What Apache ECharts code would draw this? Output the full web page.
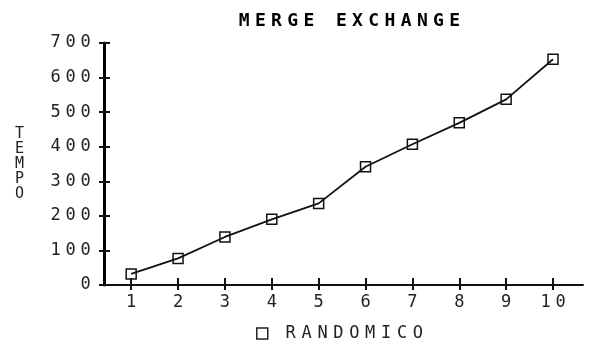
<!DOCTYPE html>
<html><head><meta charset="utf-8">
<script src="https://cdn.jsdelivr.net/npm/echarts@6/dist/echarts.min.js"></script>
<style>html,body{margin:0;padding:0;background:#fff}#c{width:598px;height:341px}</style>
</head><body><div id="c"></div>
<script>
const titleText = 'MERGE EXCHANGE';
const yName = 'TEMPO';
const seriesName = 'RANDOMICO';
const xValues = [1, 2, 3, 4, 5, 6, 7, 8, 9, 10];
const tempoValues = [32, 77, 139, 190, 236, 342, 407, 469, 537, 653];
const yTicks = [0, 100, 200, 300, 400, 500, 600, 700];

const FONT = 'DejaVu Sans Mono';
function cells(str, key) {
  return String(str).split('').map(function (c) { return '{' + key + '|' + c + '}'; }).join('');
}

const chart = echarts.init(document.getElementById('c'), null, { renderer: 'canvas' });
const axisX = {
  type: 'value', min: 0.42, max: 10.64,
  splitLine: { show: false }
};
const axisY = {
  type: 'value', min: yTicks[0], max: yTicks[yTicks.length - 1], interval: 100,
  splitLine: { show: false }
};
chart.setOption({
  backgroundColor: '#ffffff',
  animation: false,
  title: {
    text: cells(titleText, 't'),
    left: 231, top: 7,
    textStyle: {
      rich: { t: { fontFamily: FONT, fontWeight: 'bold', fontSize: 18, width: 16.2, align: 'center', color: '#000' } }
    }
  },
  legend: {
    left: 251, top: 320,
    itemWidth: 11, itemHeight: 11,
    icon: 'rect',
    itemStyle: { color: '#fff', borderColor: '#222', borderWidth: 1.5 },
    formatter: function (n) { return cells(n, 'l'); },
    textStyle: {
      padding: [0, 0, 0, 10],
      rich: { l: { fontFamily: FONT, fontSize: 17, width: 15.9, align: 'center', color: '#222' } }
    },
    data: [seriesName]
  },
  grid: { left: 104, right: 15, top: 43, bottom: 56 },
  xAxis: [
    Object.assign({}, axisX, {
      axisLine: { show: true, onZero: false, lineStyle: { color: '#111', width: 2 } },
      axisTick: { show: true, customValues: xValues, length: 5, lineStyle: { color: '#111', width: 2 } },
      axisLabel: {
        customValues: xValues, margin: 9,
        formatter: function (v) { return cells(v, 'x'); },
        rich: { x: { fontFamily: FONT, fontSize: 17, width: 15, align: 'center', color: '#222' } }
      }
    }),
    Object.assign({}, axisX, {
      position: 'bottom',
      axisLine: { show: false },
      axisTick: { show: true, inside: true, customValues: xValues, length: 7, lineStyle: { color: '#111', width: 2 } },
      axisLabel: { show: false }
    })
  ],
  yAxis: [
    Object.assign({}, axisY, {
      name: yName.split('').join('\n'),
      nameLocation: 'middle', nameRotate: 0, nameGap: 80,
      nameTextStyle: { fontFamily: FONT, fontSize: 15, lineHeight: 15, color: '#222', padding: [0, 0, 18, 0] },
      axisLine: { show: true, onZero: false, lineStyle: { color: '#000', width: 3 } },
      axisTick: { show: true, length: 5, lineStyle: { color: '#111', width: 2 } },
      axisLabel: {
        margin: 11,
        formatter: function (v) { return cells(v, 'y'); },
        rich: { y: { fontFamily: FONT, fontSize: 17, width: 15, align: 'center', color: '#222' } }
      }
    }),
    Object.assign({}, axisY, {
      position: 'left', offset: 0,
      axisLine: { show: false },
      axisTick: { show: true, inside: true, length: 6, lineStyle: { color: '#111', width: 2 } },
      axisLabel: { show: false }
    })
  ],
  series: [{
    name: seriesName,
    type: 'line',
    xAxisIndex: 0, yAxisIndex: 0,
    data: xValues.map(function (x, i) { return [x, tempoValues[i]]; }),
    symbol: 'rect', symbolSize: 10,
    lineStyle: { color: '#111', width: 1.8 },
    itemStyle: { color: 'rgba(255,255,255,0)', borderColor: '#111', borderWidth: 1.5 }
  }]
});
</script></body></html>
